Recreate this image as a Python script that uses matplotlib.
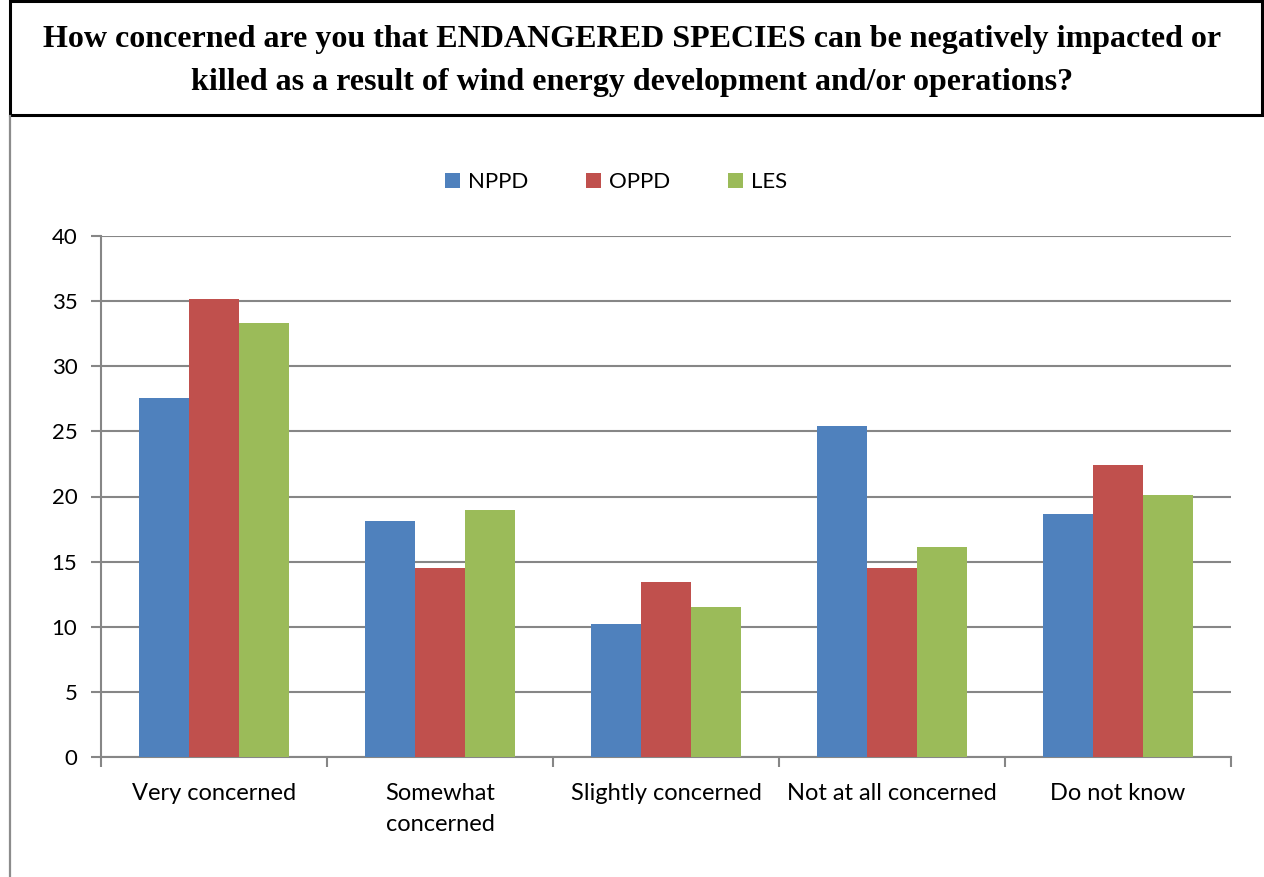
import numpy as np
import matplotlib
matplotlib.use("Agg")
import matplotlib.pyplot as plt
from matplotlib.patches import Rectangle
from matplotlib.lines import Line2D

# survey answers (percent)
categories = ["Very concerned", "Somewhat\nconcerned", "Slightly concerned",
              "Not at all concerned", "Do not know"]
series_names = ["NPPD", "OPPD", "LES"]
nppd = [27.6, 18.15, 10.2, 25.4, 18.65]
oppd = [35.2, 14.5, 13.45, 14.5, 22.4]
les = [33.3, 18.95, 11.5, 16.1, 20.1]
colors = ["#4F81BD", "#C0504D", "#9BBB59"]
title = ("How concerned are you that ENDANGERED SPECIES can be negatively impacted or\n"
         "killed as a result of wind energy development and/or operations?")

W, H = 1264, 877
fig = plt.figure(figsize=(W / 100, H / 100), dpi=100)
fig.patch.set_facecolor("white")

# title box and the grey frame line under it
fig.add_artist(Rectangle((10 / W, 1 - 115 / H), 1252 / W, 114 / H, transform=fig.transFigure,
                         fill=False, edgecolor="black", lw=2.2))
fig.add_artist(Line2D([10.5 / W, 10.5 / W], [0, 1 - 116 / H], transform=fig.transFigure,
                      color="#8c8c8c", lw=1.6))
fig.text(0.5, 1 - 61 / H, title, ha="center", va="center", fontsize=23,
         fontweight="bold", family="Liberation Serif", linespacing=1.6)

ax = fig.add_axes([101 / W, 1 - 757 / H, 1130 / W, 521 / H])
x = np.arange(len(categories))
bw = 1 / 4.5
for i, (name, vals) in enumerate(zip(series_names, [nppd, oppd, les])):
    ax.bar(x + (i - 1) * bw, vals, bw, color=colors[i], label=name, zorder=3)

ax.set_xlim(-0.5, len(categories) - 0.5)
ax.set_ylim(0, 40)
ax.set_yticks(np.arange(0, 41, 5))
ax.yaxis.grid(True, color="#868686", lw=1.5, zorder=0)
ax.set_axisbelow(True)

ax.set_xticks(x)
ax.set_xticklabels(categories, fontsize=17, family="Lato", linespacing=1.55)
ax.set_xticks(np.arange(-0.5, len(categories)), minor=True)
ax.tick_params(axis="x", which="major", length=0, pad=19)
ax.tick_params(axis="x", which="minor", length=7, width=1.5, color="#868686", direction="out")
ax.tick_params(axis="y", length=7, width=1.5, color="#868686", pad=10, labelsize=16)
for lab in ax.get_yticklabels():
    lab.set_family("Lato")

for s in ["top", "right"]:
    ax.spines[s].set_visible(False)
for s in ["left", "bottom"]:
    ax.spines[s].set_color("#868686")
    ax.spines[s].set_linewidth(1.5)

leg = ax.legend(loc="center", bbox_to_anchor=(0.5 - 50 / 1130, 1 + (236 - 182) / 521), ncol=3,
                frameon=False, prop={"family": "Lato", "size": 16},
                handlelength=0.68, handleheight=0.68, handletextpad=0.35,
                columnspacing=2.6)

fig.savefig("out.png", dpi=100)
